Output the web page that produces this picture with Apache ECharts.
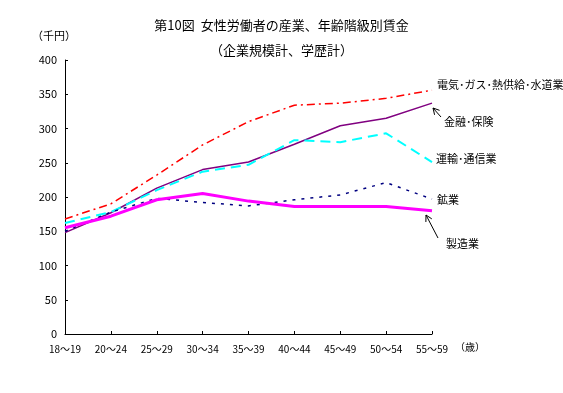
<!DOCTYPE html>
<html><head><meta charset="utf-8">
<script src="https://cdn.jsdelivr.net/npm/echarts@6/dist/echarts.min.js"></script>
<style>html,body{margin:0;padding:0;background:#fff}#c{width:563px;height:393px}</style>
</head><body><div id="c"></div>
<script>
const categories = ['18～19','20～24','25～29','30～34','35～39','40～44','45～49','50～54','55～59'];
const yTicks = [0,50,100,150,200,250,300,350,400];
const denki = [168,190,232,276,310,334,337,344,356];
const kinyu = [148,177,213,240,251,277,304,315,337];
const unyu = [162,178,210,237,247,283,280,293,251];
const kogyo = [150,178,198,192,187,196,203,221,197];
const seizo = [155,172,196,205,194,186,186,186,180];
const names = ['電気･ガス･熱供給･水道業','金融･保険','運輸･通信業','鉱業','製造業'];

const F = '"Noto Sans CJK JP", sans-serif';
const chart = echarts.init(document.getElementById('c'));
function arrow(x1,y1,x2,y2){
  const a = Math.atan2(y1-y2,x1-x2), L=7, s=0.5;
  return [
    {type:'line',shape:{x1:x1,y1:y1,x2:x2,y2:y2},style:{stroke:'#000',lineWidth:1}},
    {type:'polyline',shape:{points:[[x2+L*Math.cos(a+s),y2+L*Math.sin(a+s)],[x2,y2],[x2+L*Math.cos(a-s),y2+L*Math.sin(a-s)]]},style:{stroke:'#000',lineWidth:1,fill:null}}
  ];
}
function lab(t,x,y){return {type:'text',left:x,top:y-7,style:{text:t,font:'11px '+F,fill:'#000'}};}
chart.setOption({
  animation:false,
  title:[
    {text:'第10図  女性労働者の産業、年齢階級別賃金',left:'center',top:14,textStyle:{fontFamily:F,fontSize:13,fontWeight:'normal',color:'#000'}},
    {text:'（企業規模計、学歴計）',left:'center',top:39,textStyle:{fontFamily:F,fontSize:13,fontWeight:'normal',color:'#000'}}
  ],
  grid:{left:65,right:131,top:60,bottom:59},
  xAxis:{type:'category',data:categories,boundaryGap:false,
    axisLine:{lineStyle:{color:'#000',width:1}},
    axisTick:{inside:true,length:3,lineStyle:{color:'#000'}},
    axisLabel:{color:'#000',fontFamily:F,fontSize:10,margin:10,showMaxLabel:true}},
  yAxis:{type:'value',min:0,max:400,interval:50,
    axisLine:{show:true,lineStyle:{color:'#000',width:1}},
    axisTick:{show:true,inside:true,length:3,lineStyle:{color:'#000'}},
    splitLine:{show:false},
    axisLabel:{color:'#000',fontFamily:F,fontSize:11,margin:8,formatter:v=>yTicks.includes(v)?String(v):''}},
  series:[
    {name:names[0],type:'line',data:denki,symbol:'none',lineStyle:{color:'#FF0000',width:1.5,type:[8,4,2,4]}},
    {name:names[1],type:'line',data:kinyu,symbol:'none',lineStyle:{color:'#800080',width:1.5}},
    {name:names[2],type:'line',data:unyu,symbol:'none',lineStyle:{color:'#00FFFF',width:2,type:[10,6]}},
    {name:names[3],type:'line',data:kogyo,symbol:'none',lineStyle:{color:'#000080',width:1.5,type:[3,6]}},
    {name:names[4],type:'line',data:seizo,symbol:'none',lineStyle:{color:'#FF00FF',width:3}}
  ],
  graphic:[
    {type:'text',left:32,top:30,style:{text:'（千円）',font:'11px '+F,fill:'#000'}},
    {type:'text',left:455,top:342,style:{text:'（歳）',font:'10px '+F,fill:'#000'}},
    lab(names[0],437,86),
    lab(names[1],444,123),
    lab(names[2],436,160),
    lab(names[3],437,201),
    lab(names[4],446,245),
    ...arrow(441,117,433,108),
    ...arrow(438,238,426,215)
  ]
});
</script></body></html>
